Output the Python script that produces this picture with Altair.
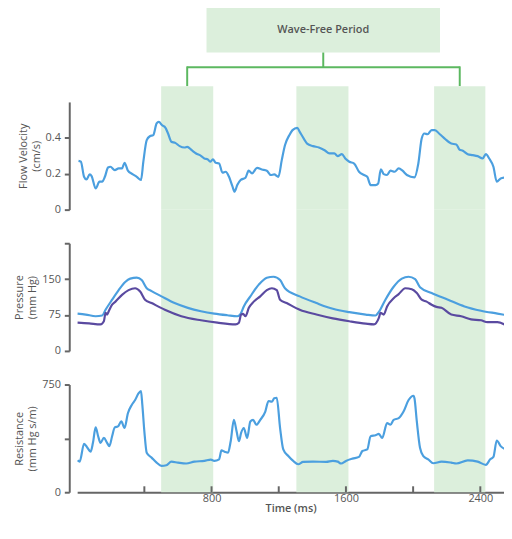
import altair as alt
import pandas as pd

# ---------------- data ----------------
flow_t = [8, 22, 41, 55, 75, 86, 110, 133, 149, 165, 184, 198, 224, 247, 267, 282, 302, 329, 355, 380,
          394, 414, 433, 453, 473, 486, 506, 525, 541, 561, 584, 610, 639, 655, 682, 708, 737, 757, 776, 792,
          808, 825, 845, 865, 884, 904, 924, 937, 953, 973, 1002, 1021, 1041, 1071, 1100, 1129, 1153, 1173, 1198, 1218,
          1237, 1263, 1282, 1310, 1325, 1349, 1369, 1404, 1439, 1473, 1502, 1531, 1551, 1576, 1596, 1620, 1649, 1678, 1708, 1727,
          1747, 1776, 1792, 1808, 1825, 1845, 1865, 1890, 1914, 1937, 1963, 2008, 2031, 2051, 2067, 2086, 2110, 2129, 2159, 2188,
          2227, 2257, 2276, 2296, 2325, 2355, 2384, 2414, 2433, 2453, 2478, 2498, 2521, 2551]
flow_v = [0.272, 0.267, 0.183, 0.168, 0.196, 0.187, 0.118, 0.156, 0.156, 0.183, 0.235, 0.239, 0.220, 0.230, 0.230, 0.261, 0.217, 0.198, 0.183, 0.165,
          0.267, 0.387, 0.409, 0.415, 0.480, 0.489, 0.470, 0.457, 0.424, 0.378, 0.372, 0.354, 0.346, 0.350, 0.331, 0.313, 0.300, 0.285, 0.281, 0.267,
          0.280, 0.261, 0.257, 0.206, 0.211, 0.183, 0.131, 0.100, 0.137, 0.165, 0.178, 0.217, 0.202, 0.233, 0.224, 0.217, 0.193, 0.196, 0.183, 0.276,
          0.359, 0.415, 0.443, 0.456, 0.433, 0.396, 0.368, 0.354, 0.346, 0.331, 0.313, 0.313, 0.298, 0.309, 0.285, 0.267, 0.257, 0.211, 0.193, 0.183,
          0.137, 0.137, 0.146, 0.224, 0.198, 0.193, 0.217, 0.211, 0.230, 0.217, 0.193, 0.180, 0.257, 0.396, 0.424, 0.420, 0.443, 0.443, 0.420, 0.396,
          0.368, 0.363, 0.335, 0.328, 0.309, 0.304, 0.298, 0.285, 0.309, 0.285, 0.239, 0.156, 0.174, 0.180]

aortic_t = [2, 51, 110, 149, 169, 208, 247, 286, 316, 355, 384, 414, 443, 502, 580, 659, 737, 816, 894, 953,
            973, 992, 1031, 1080, 1129, 1169, 1208, 1237, 1325, 1424, 1522, 1620, 1718, 1776, 1796, 1835, 1884, 1933, 1973, 2012,
            2041, 2110, 2208, 2306, 2404, 2502, 2551]
aortic_p = [78, 76, 72.5, 74, 86, 107, 127, 144, 151, 153, 148, 131, 125, 114, 100, 90, 83, 78, 74.6, 72.5,
            77.5, 93, 114, 138, 153, 155, 148, 131, 114, 100, 88, 81, 76, 74, 81.5, 107, 134, 151, 155, 150,
            133, 121, 107, 93, 84, 78, 75]

distal_t = [2, 71, 139, 159, 169, 178, 188, 208, 228, 267, 306, 345, 375, 404, 443, 522, 620, 737, 835, 943,
            963, 976, 988, 1002, 1022, 1051, 1090, 1129, 1159, 1188, 1208, 1247, 1325, 1424, 1522, 1620, 1718, 1767, 1796, 1806,
            1825, 1845, 1884, 1914, 1953, 1992, 2022, 2051, 2080, 2110, 2139, 2169, 2227, 2286, 2345, 2404, 2443, 2502, 2551]
distal_p = [59, 57.5, 55.5, 62, 79.5, 76, 83, 96.6, 103, 117, 127, 131, 124, 107, 100, 86, 72.5, 64, 59, 55.5,
            59, 76, 77.5, 72.5, 90, 103, 114, 127, 131, 127, 107, 100, 86, 76, 68, 62, 57, 55.5, 69, 79.5,
            76, 93, 110, 118.6, 131, 129, 121, 107, 103, 96.6, 92, 90, 76, 72.5, 66, 64, 60, 60, 54]

res_t = [2, 15, 41, 61, 80, 94, 110, 125, 139, 159, 178, 192, 208, 224, 243, 263, 282, 302, 325, 345,
         365, 380, 388, 400, 414, 443, 473, 502, 531, 561, 600, 649, 698, 757, 796, 816, 845, 859, 878, 898,
         914, 933, 949, 963, 976, 992, 1012, 1031, 1047, 1067, 1090, 1120, 1139, 1159, 1173, 1188, 1208, 1227, 1257, 1286,
         1316, 1345, 1404, 1482, 1522, 1551, 1571, 1600, 1639, 1678, 1698, 1727, 1747, 1776, 1796, 1816, 1845, 1865, 1884, 1914,
         1943, 1973, 2002, 2008, 2022, 2041, 2061, 2090, 2120, 2169, 2227, 2257, 2325, 2384, 2433, 2459, 2478, 2498, 2521, 2551]
res_v = [222, 213, 337, 310, 282, 344, 452, 390, 344, 378, 344, 321, 390, 452, 459, 493, 447, 550, 608, 642,
         688, 704, 608, 424, 275, 241, 206, 184, 188, 213, 206, 200, 213, 218, 227, 218, 229, 291, 282, 275,
         355, 504, 424, 355, 413, 447, 378, 493, 504, 470, 504, 562, 635, 631, 654, 658, 447, 298, 252, 218,
         195, 211, 213, 211, 218, 213, 200, 218, 234, 246, 287, 298, 390, 397, 406, 378, 482, 470, 504, 516,
         562, 642, 672, 654, 493, 310, 252, 229, 202, 213, 206, 200, 222, 213, 191, 229, 246, 360, 321, 298]

band_start = [500, 1305, 2125]
band_end = [810, 1615, 2430]
box_start = [770]
box_end = [2160]
box_label = ["Wave-Free Period"]
x_ticks = [400, 800, 1200, 1600, 2000, 2400]
x_labels = [800, 1600, 2400]

# ---------------- styling ----------------
FONT = "Open Sans"
BLUE = "#4b9fdf"
PURPLE = "#5a4aa0"
BAND = "#dcefdc"
BRACKET = "#5cb860"
AXIS = "#666666"
TEXT = "#555555"
W = 432
H = 109
XMAX = 2541
GAP = 34

xscale = alt.Scale(domain=[0, XMAX], nice=False, zero=False)

bands = pd.DataFrame({"start": band_start, "end": band_end})
bands["mid"] = (bands["start"] + bands["end"]) / 2
flow_df = pd.DataFrame({"t": flow_t, "v": flow_v})
aortic_df = pd.DataFrame({"t": aortic_t, "p": aortic_p})
distal_df = pd.DataFrame({"t": distal_t, "p": distal_p})
res_df = pd.DataFrame({"t": res_t, "v": res_v})
box_df = pd.DataFrame({"start": box_start, "end": box_end, "label": box_label})
box_df["mid"] = (box_df["start"] + box_df["end"]) / 2
tick_df = pd.DataFrame({"t": x_ticks})


def yaxis(title, values, label_expr=None):
    kw = dict(
        title=title, values=values, offset=8, grid=False,
        domainColor=AXIS, domainWidth=2, tickColor=AXIS, tickWidth=2, tickSize=5,
        labelColor=TEXT, labelFontSize=11, labelFont=FONT, labelPadding=4,
        titleColor=TEXT, titleFontSize=11, titleFont=FONT, titleFontWeight="normal",
        titlePadding=4, titleLineHeight=13,
    )
    if label_expr is not None:
        kw["labelExpr"] = label_expr
    return alt.Axis(**kw)


x_axis_bottom = alt.Axis(title="Time (ms)", values=x_labels, ticks=False, grid=False, format="d",
                         domainColor=AXIS, domainWidth=2, labelColor=TEXT, labelFontSize=11,
                         labelFont=FONT, labelPadding=0, titleColor=TEXT, titleFontSize=11,
                         titleFont=FONT, titleFontWeight=600, titlePadding=0)


def band_layer(top, xaxis=None):
    return alt.Chart(bands).mark_rect(color=BAND).encode(
        x=alt.X("start:Q", scale=xscale, axis=xaxis),
        x2="end:Q",
        y=alt.value(top),
        y2=alt.value(H),
    )


# ---------- annotation panel ----------
ann_box = alt.Chart(box_df).mark_rect(color=BAND).encode(
    x=alt.X("start:Q", scale=xscale, axis=None), x2="end:Q",
    y=alt.value(0), y2=alt.value(46))
ann_text = alt.Chart(box_df).mark_text(font=FONT, fontSize=11, fontWeight=600, color=TEXT).encode(
    x=alt.X("mid:Q", scale=xscale, axis=None), y=alt.value(23), text="label:N")
bracket_h = alt.Chart(bands).mark_rule(color=BRACKET, strokeWidth=2).encode(
    x=alt.X("min(mid):Q", scale=xscale, axis=None), x2="max(mid):Q", y=alt.value(61))
bracket_c = alt.Chart(box_df).mark_rule(color=BRACKET, strokeWidth=2).encode(
    x=alt.X("mid:Q", scale=xscale, axis=None), y=alt.value(46), y2=alt.value(61))
bracket_v = alt.Chart(bands.iloc[[0, 2]]).mark_rule(color=BRACKET, strokeWidth=2).encode(
    x=alt.X("mid:Q", scale=xscale, axis=None), y=alt.value(60), y2=alt.value(80))
annotation = alt.layer(ann_box, ann_text, bracket_h, bracket_c, bracket_v).properties(width=W, height=62)

# ---------- flow velocity ----------
flow_line = alt.Chart(flow_df).mark_line(color=BLUE, strokeWidth=2.2, interpolate="monotone", clip=True).encode(
    x=alt.X("t:Q", scale=xscale, axis=None),
    y=alt.Y("v:Q", scale=alt.Scale(domain=[0, 0.6], nice=False),
            axis=yaxis(["Flow Velocity", "(cm/s)"], [0, 0.2, 0.4],
                       "datum.value == 0 ? '0' : format(datum.value, '.1f')")),
)
flow = alt.layer(band_layer(-16), flow_line).properties(width=W, height=H)

# ---------- pressure ----------
pscale = alt.Scale(domain=[0, 225], nice=False)
p_axis = yaxis(["Pressure", "(mm Hg)"], [0, 75, 150, 225], "datum.value == 225 ? '' : datum.label")
aortic_line = alt.Chart(aortic_df).mark_line(color=BLUE, strokeWidth=2.2, interpolate="monotone", clip=True).encode(
    x=alt.X("t:Q", scale=xscale, axis=None),
    y=alt.Y("p:Q", scale=pscale, axis=p_axis),
)
distal_line = alt.Chart(distal_df).mark_line(color=PURPLE, strokeWidth=2.2, interpolate="monotone", clip=True).encode(
    x=alt.X("t:Q", scale=xscale, axis=None),
    y=alt.Y("p:Q", scale=pscale, axis=p_axis),
)
pressure = alt.layer(band_layer(-GAP), aortic_line, distal_line).properties(width=W, height=H)

# ---------- resistance ----------
res_line = alt.Chart(res_df).mark_line(color=BLUE, strokeWidth=2.2, interpolate="monotone", clip=True).encode(
    x=alt.X("t:Q", scale=xscale, axis=x_axis_bottom),
    y=alt.Y("v:Q", scale=alt.Scale(domain=[0, 750], nice=False),
            axis=yaxis(["Resistance", "(mm Hg s/m)"], [0, 375, 750], "datum.value == 375 ? '' : datum.label")),
)
ticks = alt.Chart(tick_df).mark_rule(color=AXIS, strokeWidth=2).encode(
    x=alt.X("t:Q", scale=xscale, axis=x_axis_bottom), y=alt.value(H - 6), y2=alt.value(H))
resistance = alt.layer(band_layer(-GAP, x_axis_bottom), res_line, ticks).properties(width=W, height=H)

chart = alt.vconcat(annotation, flow, pressure, resistance, spacing=GAP, bounds="flush").properties(
    padding={"left": 6, "top": -4, "right": 0, "bottom": 0}
).configure(font=FONT).configure_view(strokeWidth=0)

chart.save("out.html", embed_options={"renderer": "svg", "actions": False})
